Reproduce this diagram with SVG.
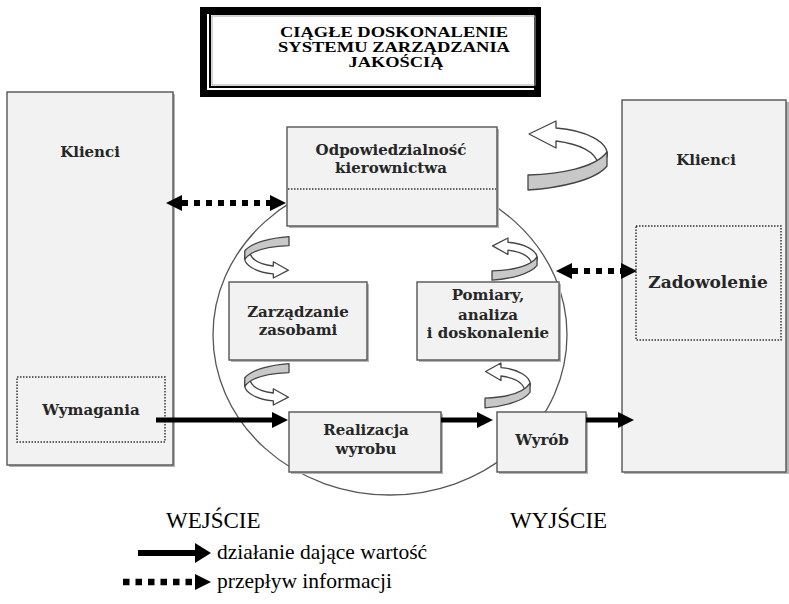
<svg xmlns="http://www.w3.org/2000/svg" width="789" height="604" viewBox="0 0 789 604">
  <style>
    .box{fill:#f2f2f2;stroke:#555;stroke-width:1.4}
    .shadow{fill:#b4b4b4}
    .lbl{font-family:"DejaVu Serif","Liberation Serif",serif;font-weight:bold;font-size:15px;fill:#262626;text-anchor:middle}
    .inner{fill:none;stroke:#333;stroke-width:1.5;stroke-dasharray:1.5 1.5}
    .flow{stroke:#000;stroke-width:5;fill:none}
    .info{stroke:#000;stroke-width:6;stroke-dasharray:6 6;fill:none}
    .ribbon{fill:#fff;stroke:#444;stroke-width:1.3;stroke-linejoin:round}
    .band{fill:#c8c8c8;stroke:#444;stroke-width:1.3;stroke-linejoin:round}
    .plain{font-family:"Liberation Serif","Times New Roman",serif;font-weight:normal;fill:#000}
    .title{font-family:"Liberation Serif","Times New Roman",serif;font-weight:bold;font-size:14px;fill:#000;text-anchor:middle}
  </style>
  <defs>
    <marker id="head" markerUnits="userSpaceOnUse" markerWidth="16" markerHeight="16" refX="0" refY="8" orient="auto-start-reverse">
      <path d="M0,0 L16,8 L0,16 Z" fill="#000"/>
    </marker>
    <marker id="headBig" markerUnits="userSpaceOnUse" markerWidth="16" markerHeight="20" refX="0" refY="10" orient="auto">
      <path d="M0,0 L16,10 L0,20 Z" fill="#000"/>
    </marker>
    <!-- 3D looping ribbon arrow: grey band below, white ribbon with head on top -->
    <g id="loop">
      <path class="ribbon" vector-effect="non-scaling-stroke" d="M1,13 L28,0 L28,7 C57,9 82,21 79,36 L70,43 C68,31 52,23 28,20 L28,27 Z"/>
      <path class="band" vector-effect="non-scaling-stroke" d="M0,54 C32,53 67,47 79,31 L79,45 C68,59 32,67 0,69 Z"/>
    </g>
  </defs>

  <rect width="789" height="604" fill="#fff"/>

  <!-- title -->
  <g id="title">
    <rect x="203.5" y="10.5" width="334" height="83" fill="#fff" stroke="#000" stroke-width="7"/>
    <rect x="210" y="14" width="327" height="73" fill="none" stroke="#000" stroke-width="2"/>
    <rect x="212" y="16" width="323" height="69" fill="none" stroke="#aaa" stroke-width="1"/>
    <text class="title" x="394" y="37" textLength="228" lengthAdjust="spacingAndGlyphs">CIĄGŁE DOSKONALENIE</text>
    <text class="title" x="394" y="52" textLength="232" lengthAdjust="spacingAndGlyphs">SYSTEMU ZARZĄDZANIA</text>
    <text class="title" x="396" y="67" textLength="95" lengthAdjust="spacingAndGlyphs">JAKOŚCIĄ</text>
  </g>

  <!-- process circle -->
  <ellipse cx="390" cy="335" rx="177" ry="160" fill="none" stroke="#555" stroke-width="1.3"/>

  <!-- customers: input side -->
  <g id="klienci-wejscie">
    <rect class="shadow" x="9" y="94" width="166" height="373"/>
    <rect class="box" x="7" y="92" width="166" height="373"/>
    <text class="lbl" x="90" y="157">Klienci</text>
  </g>
  <g id="wymagania">
    <rect class="inner" x="17" y="377" width="148" height="65"/>
    <text class="lbl" x="91" y="415">Wymagania</text>
  </g>

  <!-- customers: output side -->
  <g id="klienci-wyjscie">
    <rect class="shadow" x="624" y="102" width="165" height="372"/>
    <rect class="box" x="622" y="100" width="164" height="372"/>
    <text class="lbl" x="706" y="165">Klienci</text>
  </g>
  <g id="zadowolenie">
    <rect class="inner" x="636" y="226" width="145" height="114"/>
    <text class="lbl" x="708" y="288" style="font-size:17px">Zadowolenie</text>
  </g>

  <!-- management responsibility -->
  <g id="odpowiedzialnosc">
    <rect class="shadow" x="289" y="129" width="210" height="99"/>
    <rect class="box" x="287" y="127" width="210" height="99"/>
    <line class="inner" x1="288" y1="189" x2="496" y2="189"/>
    <text class="lbl" x="391" y="155">Odpowiedzialność</text>
    <text class="lbl" x="391" y="173">kierownictwa</text>
  </g>

  <!-- resource management -->
  <g id="zasoby">
    <rect class="shadow" x="231" y="284" width="138" height="78"/>
    <rect class="box" x="229" y="282" width="138" height="78"/>
    <text class="lbl" x="298" y="317">Zarządzanie</text>
    <text class="lbl" x="298" y="335">zasobami</text>
  </g>

  <!-- measurement, analysis, improvement -->
  <g id="pomiary">
    <rect class="shadow" x="419" y="284" width="142" height="78"/>
    <rect class="box" x="417" y="282" width="142" height="78"/>
    <text class="lbl" x="488" y="300">Pomiary,</text>
    <text class="lbl" x="488" y="320">analiza</text>
    <text class="lbl" x="488" y="338">i doskonalenie</text>
  </g>

  <!-- product realisation -->
  <g id="realizacja">
    <rect class="shadow" x="291" y="414" width="152" height="60"/>
    <rect class="box" x="289" y="412" width="152" height="60"/>
    <text class="lbl" x="366" y="435">Realizacja</text>
    <text class="lbl" x="366" y="454">wyrobu</text>
  </g>

  <!-- product -->
  <g id="wyrob">
    <rect class="shadow" x="499" y="414" width="89" height="60"/>
    <rect class="box" x="497" y="412" width="89" height="60"/>
    <text class="lbl" x="542" y="445">Wyrób</text>
  </g>

  <!-- improvement loops -->
  <g id="petle">
    <use href="#loop" transform="translate(528,121)"/>
    <use href="#loop" transform="translate(492,238) scale(0.57,0.61)"/>
    <use href="#loop" transform="translate(485,363) scale(0.57,0.65)"/>
    <use href="#loop" transform="translate(289,278) rotate(180) scale(0.56,0.6)"/>
    <use href="#loop" transform="translate(289,405) rotate(180) scale(0.56,0.6)"/>
  </g>

  <!-- connectors -->
  <g id="connectors">
    <line class="info" x1="182" y1="203" x2="270" y2="203" marker-start="url(#head)" marker-end="url(#head)"/>
    <line class="info" x1="572" y1="271" x2="621" y2="271" marker-start="url(#head)" marker-end="url(#head)"/>
    <line class="flow" x1="156" y1="420" x2="272" y2="420" marker-end="url(#head)"/>
    <line class="flow" x1="441" y1="420" x2="477" y2="420" marker-end="url(#head)"/>
    <line class="flow" x1="586" y1="420" x2="618" y2="420" marker-end="url(#head)"/>
  </g>

  <!-- legend -->
  <g id="legenda">
    <text class="plain" x="166" y="528" font-size="23">WEJŚCIE</text>
    <text class="plain" x="510" y="528" font-size="23">WYJŚCIE</text>
    <line x1="138" y1="553" x2="195" y2="553" stroke="#000" stroke-width="6" marker-end="url(#headBig)"/>
    <text class="plain" x="217" y="559" font-size="21.5">działanie dające wartość</text>
    <line x1="123" y1="582" x2="195" y2="582" stroke="#000" stroke-width="6.5" stroke-dasharray="6.5 6" marker-end="url(#head)"/>
    <text class="plain" x="217" y="588" font-size="21.5">przepływ informacji</text>
  </g>
</svg>
